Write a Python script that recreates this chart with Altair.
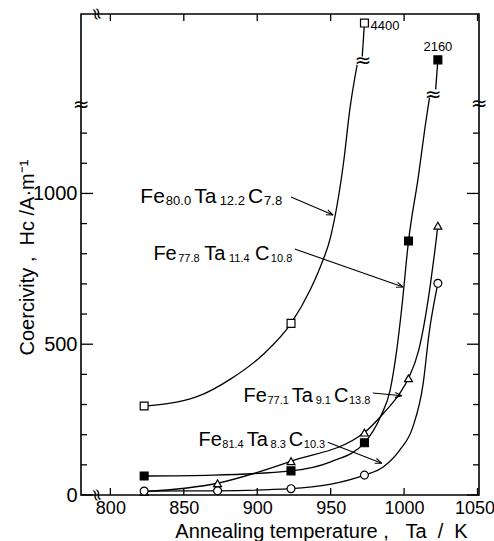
import math
import altair as alt
import pandas as pd

FONT = "Liberation Sans"

# ---------------- values ----------------
x_ticks = [800, 850, 900, 950, 1000, 1050]
y_ticks = [0, 100, 200, 300, 400, 500, 600, 700, 800, 900, 1000, 1100, 1200]
y_major = [0, 500, 1000]

# measured points (Ta in K, Hc in A/m)
s1_T = [823, 923, 973]                      # Fe80.0Ta12.2C7.8  (open squares)
s1_H = [295, 569, 4400]
s2_T = [823, 923, 973, 1003, 1023]          # Fe77.8Ta11.4C10.8 (filled squares)
s2_H = [63, 80, 173, 842, 2160]
s3_T = [823, 873, 923, 973, 1003, 1023]     # Fe77.1Ta9.1C13.8  (open triangles)
s3_H = [11, 39, 112, 207, 387, 893]
s4_T = [823, 873, 923, 973, 1023]           # Fe81.4Ta8.3C10.3  (open circles)
s4_H = [13, 14, 21, 66, 702]

# hand-drawn fitted curves (below the break)
c1_T = [823, 859, 882, 904, 923, 936, 943, 950, 959, 963, 968]
c1_H = [295, 326, 385, 466, 569, 680, 757, 857, 1111, 1277, 1426]
c2_T = [823, 870, 923, 950, 973, 984, 990.5, 995, 998.4, 1003, 1009.7, 1014.3, 1017.3]
c2_H = [63, 66, 80, 110, 173, 260, 348, 481, 620, 842, 1056, 1221, 1318]
c3_T = [823, 873, 923, 973, 986, 997, 1003, 1010, 1014.5, 1018, 1021, 1023]
c3_H = [11, 39, 112, 207, 271, 337, 387, 481, 591, 702, 812, 893]
c4_T = [823, 873, 923, 973, 986, 997, 1006, 1013, 1017, 1023]
c4_H = [13, 14, 21, 66, 94, 149, 226, 370, 536, 702]
# start of the curve pieces above the curve breaks
c1u_T, c1u_H = [971.5], [1454]
c2u_T, c2u_H = [1021.5], [1345]

# broken axis: true values above the break and where they are drawn
BRK_TRUE = [2160, 4400]
BRK_SHOWN = [1443, 1565]

# composition labels (main text, subscript)
lab_parts = [
    [("Fe", "80.0"), ("Ta", "12.2"), ("C", "7.8")],
    [("Fe", "77.8"), ("Ta", "11.4"), ("C", "10.8")],
    [("Fe", "77.1"), ("Ta", "9.1"), ("C", "13.8")],
    [("Fe", "81.4"), ("Ta", "8.3"), ("C", "10.3")],
]
lab_T = [820.4, 829.3, 890.7, 860.0]
lab_H = [968.5, 779.4, 308.7, 163.5]

# leader arrows
arr_T0 = [923.0, 922.3, 975.4, 943.9]
arr_H0 = [988.0, 815.7, 338.2, 174.7]
arr_T1 = [951.6, 999.3, 998.4, 984.8]
arr_H1 = [928.5, 689.7, 329.3, 105.1]

# ---------------- layout / style ----------------
X_DOM = [780, 1051]
Y_DOM = [0, 1595]
W, H = 398, 481
PXK = W / (X_DOM[1] - X_DOM[0])
PXH = H / (Y_DOM[1] - Y_DOM[0])

lab_main = [21, 20, 20, 20]     # font size of element symbols
lab_sub = [13, 11, 11, 11]      # font size of subscripts
lab_g1 = [1.0, 1.5, 0.5, 0.5]   # px gap symbol -> subscript
lab_g2 = [3.0, 4.5, 3.0, 3.0]   # px gap subscript -> next symbol


def shown(h):
    if h <= 1300:
        return h
    k = (BRK_SHOWN[1] - BRK_SHOWN[0]) / (BRK_TRUE[1] - BRK_TRUE[0])
    return BRK_SHOWN[0] + (h - BRK_TRUE[0]) * k


xs = alt.Scale(domain=X_DOM, nice=False, zero=False)
ys = alt.Scale(domain=Y_DOM, nice=False, zero=False)

NB = "\u00a0"
x_title = "Annealing temperature" + NB + "," + NB * 3 + "Ta" + NB * 2 + "/" + NB * 2 + "K"
y_title = "Coercivity" + NB + "," + NB * 2 + "Hc" + NB + "/A\u00b7m\u207b\u00b9"

# ---- curves (this layer carries the axes) ----
rows = []
for seg, Ts, Hs in [("c1", c1_T, c1_H), ("c2", c2_T, c2_H), ("c3", c3_T, c3_H), ("c4", c4_T, c4_H),
                    ("c1u", c1u_T + [s1_T[-1]], c1u_H + [shown(s1_H[-1])]),
                    ("c2u", c2u_T + [s2_T[-1]], c2u_H + [shown(s2_H[-1])])]:
    for t, h in zip(Ts, Hs):
        rows.append({"T": t, "H": h, "seg": seg})
curves = alt.Chart(pd.DataFrame(rows)).mark_line(
    interpolate="monotone", color="black", strokeWidth=1.3
).encode(
    x=alt.X("T:Q", scale=xs, axis=alt.Axis(
        values=x_ticks, format="d", title=x_title,
        labelFontSize=18, labelPadding=4, titleFontSize=20,
        labelOffset={"condition": {"test": "datum.value == 1050", "value": -3}, "value": 0},
        titleX=240, titleY=42, titleBaseline="alphabetic", orient="bottom")),
    y=alt.Y("H:Q", scale=ys, axis=alt.Axis(
        values=y_major, format="d", title=y_title,
        labelFontSize=20, labelPadding=4, titleFontSize=20,
        titleX=-48, titleY=243, titleBaseline="alphabetic", titleAngle=270, orient="left")),
    detail="seg:N",
)

XN = dict(scale=xs, axis=None)
YN = dict(scale=ys, axis=None)

# ---- ticks (inward) ----
trows = []
for v in x_ticks:
    trows.append({"x": v, "x2": v, "y": Y_DOM[0], "y2": Y_DOM[0] + 7 / PXH})
    trows.append({"x": v, "x2": v, "y": Y_DOM[1], "y2": Y_DOM[1] - 7 / PXH})
for v in y_ticks:
    L = 12 if v in y_major else 6
    trows.append({"x": X_DOM[0], "x2": X_DOM[0] + L / PXK, "y": v, "y2": v})
    trows.append({"x": X_DOM[1], "x2": X_DOM[1] - L / PXK, "y": v, "y2": v})
ticks = alt.Chart(pd.DataFrame(trows)).mark_rule(color="black", strokeWidth=1.3).encode(
    x=alt.X("x:Q", **XN), x2="x2:Q", y=alt.Y("y:Q", **YN), y2="y2:Q")


# ---- markers ----
def marker_layer(Ts, Hs, shape, fill):
    df = pd.DataFrame({"T": Ts, "H": [shown(h) for h in Hs]})
    return alt.Chart(df).mark_point(
        shape=shape, filled=True, fill=fill, stroke="black", strokeWidth=1.2,
        size=62, opacity=1
    ).encode(x=alt.X("T:Q", **XN), y=alt.Y("H:Q", **YN))


m1 = marker_layer(s1_T, s1_H, "square", "white")
m2 = marker_layer(s2_T, s2_H, "square", "black")
m3 = marker_layer(s3_T, s3_H, "triangle-up", "white")
m4 = marker_layer(s4_T, s4_H, "circle", "white")

# values of the off-scale points
top_df = pd.DataFrame({
    "T": [s1_T[-1], s2_T[-1]],
    "H": [shown(s1_H[-1]), shown(s2_H[-1])],
    "txt": [str(s1_H[-1]), str(s2_H[-1])],
})
top1 = alt.Chart(top_df.iloc[[0]]).mark_text(
    align="left", baseline="middle", font=FONT, fontSize=13, dx=6, dy=3
).encode(x=alt.X("T:Q", **XN), y=alt.Y("H:Q", **YN), text="txt:N")
top2 = alt.Chart(top_df.iloc[[1]]).mark_text(
    align="center", baseline="middle", font=FONT, fontSize=13, dy=-13
).encode(x=alt.X("T:Q", **XN), y=alt.Y("H:Q", **YN), text="txt:N")

# ---- composition labels with subscripts ----
WEM = {"F": .611, "e": .556, "T": .611, "a": .556, "C": .722, ".": .278}


def tw(s, size):
    return sum(WEM.get(c, .556) for c in s) * size


text_rows = []
lab_end = []
for i, (parts, t0, h0) in enumerate(zip(lab_parts, lab_T, lab_H)):
    cur = 0.0
    for j, (m, s) in enumerate(parts):
        text_rows.append({"T": t0 + cur / PXK, "H": h0, "txt": m, "fs": lab_main[i]})
        cur += tw(m, lab_main[i]) + lab_g1[i]
        text_rows.append({"T": t0 + cur / PXK, "H": h0 - 2 / PXH, "txt": s, "fs": lab_sub[i]})
        cur += tw(s, lab_sub[i]) + (lab_g2[i] if j < len(parts) - 1 else 0)
    lab_end.append(t0 + cur / PXK)
labels = alt.Chart(pd.DataFrame(text_rows)).mark_text(
    align="left", baseline="alphabetic", font=FONT, color="black"
).encode(x=alt.X("T:Q", **XN), y=alt.Y("H:Q", **YN), text="txt:N",
         size=alt.Size("fs:Q", scale=None, legend=None))

# ---- arrows (leader starts just after its label) ----
a_T0 = [max(t, e + 2.5 / PXK) for t, e in zip(arr_T0, lab_end)]
adf = pd.DataFrame({"T0": a_T0, "H0": arr_H0, "T1": arr_T1, "H1": arr_H1})
adf["ang"] = [
    math.degrees(math.atan2(-(h1 - h0) * PXH, (t1 - t0) * PXK)) % 360
    for t0, h0, t1, h1 in zip(a_T0, arr_H0, arr_T1, arr_H1)
]
arr_lines = alt.Chart(adf).mark_rule(color="black", strokeWidth=1.1).encode(
    x=alt.X("T0:Q", **XN), x2="T1:Q", y=alt.Y("H0:Q", **YN), y2="H1:Q")
arr_heads = alt.Chart(adf).mark_point(
    shape="M0,0L-1,-0.38M0,0L-1,0.38", filled=False, stroke="black",
    strokeWidth=1.1, size=180, opacity=1
).encode(x=alt.X("T1:Q", **XN), y=alt.Y("H1:Q", **YN),
         angle=alt.Angle("ang:Q", scale=None))

# ---- break symbols ----
brk_h = pd.DataFrame({"T": [X_DOM[0], X_DOM[1], 972, 1019.7],
                      "H": [1293, 1298, 1438, 1327], "txt": ["\u2248"] * 4})
brk_v = pd.DataFrame({"T": [790.5, 790.5], "H": [Y_DOM[0], Y_DOM[1]], "txt": ["\u2248"] * 2})
breaks_h = alt.Chart(brk_h).mark_text(
    align="center", baseline="middle", font="DejaVu Sans", fontSize=20, color="black"
).encode(x=alt.X("T:Q", **XN), y=alt.Y("H:Q", **YN), text="txt:N")
breaks_v = alt.Chart(brk_v).mark_text(
    align="center", baseline="middle", font="DejaVu Sans", fontSize=17, color="black", angle=75
).encode(x=alt.X("T:Q", **XN), y=alt.Y("H:Q", **YN), text="txt:N")

chart = alt.layer(
    curves, ticks, arr_lines, arr_heads, m1, m2, m3, m4, top1, top2, labels, breaks_h, breaks_v
).resolve_axis(
    x="independent", y="independent"
).properties(
    width=W, height=H,
    autosize=alt.AutoSizeParams(type="none"),
    padding={"left": 81, "top": 14, "right": 15, "bottom": 46},
    background="white",
).configure_view(
    stroke="black", strokeWidth=1.6
).configure_axis(
    grid=False, domain=False, ticks=False, tickSize=0,
    labelFont=FONT, titleFont=FONT, labelColor="black", titleColor="black",
    titleFontWeight="normal"
)

chart.save("out.html", embed_options={"renderer": "svg", "actions": False})
